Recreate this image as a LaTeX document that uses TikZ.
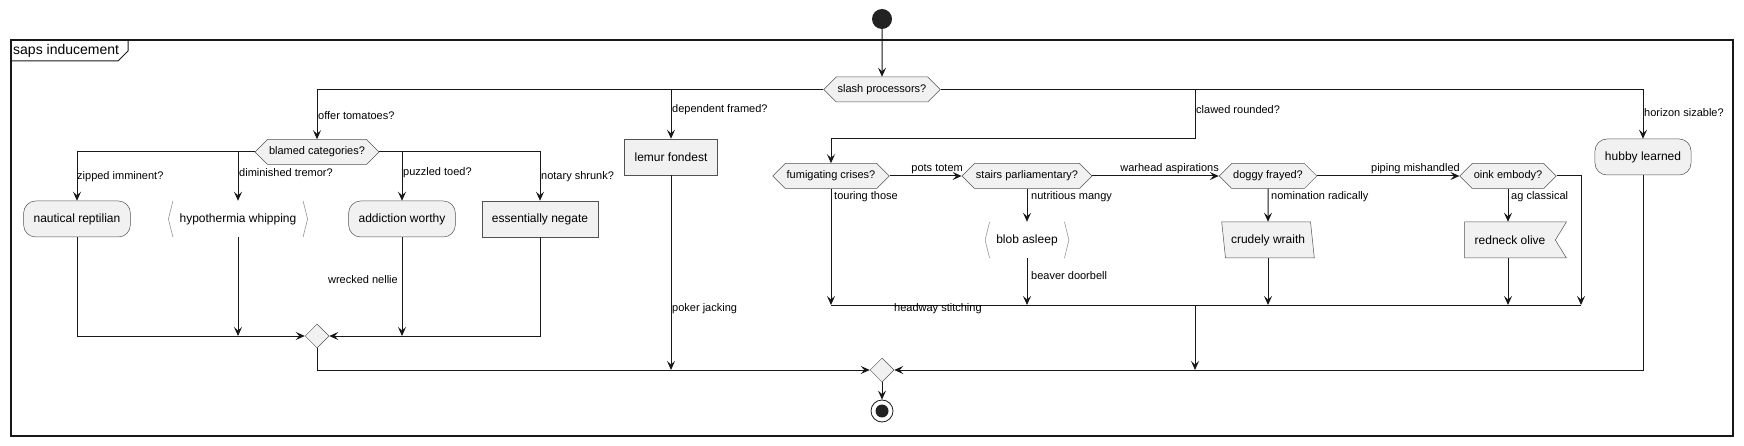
\documentclass[tikz,border=0pt]{standalone}
\usepackage{fontspec}
\setmainfont{Liberation Sans}
\usetikzlibrary{arrows.meta,shapes.geometric,shapes.symbols,positioning}
\tikzset{>={Stealth[length=9pt,width=8pt,inset=3.5pt]}}
\definecolor{boxfill}{HTML}{F1F1F1}
\definecolor{ink}{HTML}{181818}
\definecolor{dot}{HTML}{222222}
\tikzset{
  flow/.style={draw=ink, line width=1pt},
  box/.style={draw=ink!75, line width=0.5pt, fill=boxfill, font=\fontsize{12}{14}\selectfont,
    minimum height=36pt, inner xsep=10pt},
  roundbox/.style={box, rounded corners=12pt},
  decision/.style={signal, signal to=west and east, signal pointer angle=90, draw=ink!75,
    line width=0.5pt, fill=boxfill, font=\fontsize{11}{13}\selectfont,
    minimum height=25pt, inner xsep=1.5pt},
  merge/.style={diamond, draw=ink!75, line width=0.5pt, fill=boxfill, minimum size=24pt, inner sep=0pt},
  lbl/.style={font=\fontsize{11}{13}\selectfont, inner sep=0pt},
  bracket/.style={font=\fontsize{12}{14}\selectfont, minimum height=36pt, inner xsep=11pt},
  brackline/.style={draw=ink!45, line width=0.6pt},
}
\begin{document}
\begin{tikzpicture}[x=1pt,y=-1pt]
  \useasboundingbox (0,0) rectangle (1744,446);
  % frame
  \draw[ink, line width=1.2pt] (11,40) rectangle (1733,436);
  \draw[ink, line width=1pt] (11,61) -- (118,61) -- (128,51) -- (128,40);
  \node[anchor=west, inner sep=0pt, font=\fontsize{14}{16}\selectfont] (frametitle) at (13,50.5) {saps inducement};
  %
  \node[circle, fill=dot, minimum size=20pt, inner sep=0pt] (start) at (882,19) {};
  \node[decision] (slash) at (882,89.5) {slash processors?};
  % left block
  \node[decision] (blamed) at (317,152) {blamed categories?};
  \node[roundbox] (naut) at (77,219) {nautical reptilian};
  \node[bracket] (hypo) at (238,219) {hypothermia whipping};
  \node[roundbox] (addic) at (402,219) {addiction worthy};
  \node[box] (ess) at (540,219) {essentially negate};
  \node[merge] (merge1) at (317,336) {};
  \node[box] (lemur) at (671,157) {lemur fondest};
  % right block
  \node[decision] (fum) at (831,176) {fumigating crises?};
  \node[decision] (stairs) at (1027,176) {stairs parliamentary?};
  \node[decision] (doggy) at (1268,176) {doggy frayed?};
  \node[decision] (oink) at (1508,176) {oink embody?};
  \node[bracket] (blob) at (1027,240) {blob asleep};
  \node[box, trapezium, trapezium left angle=102, trapezium right angle=78,
    trapezium stretches body, inner xsep=5.5pt] (crudely) at (1268,240) {crudely wraith};
  \node[box, signal, signal to=nowhere, signal from=east, signal pointer angle=117,
    inner xsep=10pt] (redneck) at (1510,240) {redneck olive};
  \node[roundbox] (hubby) at (1643,157) {hubby learned};
  \node[merge] (merge2) at (882,370) {};
  \node[circle, draw=ink, line width=0.8pt, minimum size=22pt, inner sep=0pt] (stop) at (882,411) {};
  \fill[dot] (stop.center) circle (6.5pt);
  % angle brackets
  \foreach \n in {hypo,blob} {
    \draw[brackline] ([xshift=4.5pt]\n.north west) -- (\n.west) -- ([xshift=4.5pt]\n.south west);
    \draw[brackline] ([xshift=-4.5pt]\n.north east) -- (\n.east) -- ([xshift=-4.5pt]\n.south east);
  }
  % coordinates for joins
  \coordinate (clawturn) at (1195,139);
  \coordinate (joinL) at (831,305);
  \coordinate (joinR) at (1581,305);
  \coordinate (joinB) at (1195,305);
  % connectors
  \draw[flow,->] (start) -- (slash);
  \draw[flow,->] (slash.west) -| (blamed.north);
  \draw[flow,->] (slash.west) -| (lemur.north);
  \draw[flow,->] (slash.east) -| (clawturn) -| (fum.north);
  \draw[flow,->] (slash.east) -| (hubby.north);
  \draw[flow,->] (blamed.west) -| (naut.north);
  \draw[flow,->] (blamed.west) -| (hypo.north);
  \draw[flow,->] (blamed.east) -| (addic.north);
  \draw[flow,->] (blamed.east) -| (ess.north);
  \draw[flow,->] (naut.south) |- (merge1.west);
  \draw[flow,->] (hypo.south) -- (hypo.south |- merge1);
  \draw[flow,->] (addic.south) -- (addic.south |- merge1);
  \draw[flow,->] (ess.south) |- (merge1.east);
  \draw[flow,->] (merge1.south) |- (merge2.west);
  \draw[flow,->] (lemur.south) -- (lemur.south |- merge2);
  \draw[flow,->] (fum.east) -- (stairs.west);
  \draw[flow,->] (stairs.east) -- (doggy.west);
  \draw[flow,->] (doggy.east) -- (oink.west);
  \draw[flow,->] (stairs.south) -- (blob.north);
  \draw[flow,->] (doggy.south) -- (crudely.north);
  \draw[flow,->] (oink.south) -- (oink.south |- redneck.north);
  \draw[flow] (joinL) -- (joinR);
  \draw[flow,->] (fum.south) -- (joinL);
  \draw[flow,->] (blob.south) -- (blob.south |- joinL);
  \draw[flow,->] (crudely.south) -- (crudely.south |- joinL);
  \draw[flow,->] (oink.south |- redneck.south) -- (oink.south |- joinL);
  \draw[flow,->] (oink.east) -| (joinR);
  \draw[flow,->] (joinB) -- (joinB |- merge2);
  \draw[flow,->] (hubby.south) |- (merge2.east);
  \draw[flow,->] (merge2.south) -- (stop.north);
  % labels
  \node[lbl, anchor=west] (lOffer) at (318,116) {offer tomatoes?};
  \node[lbl, anchor=west] (lDep) at (672,110) {dependent framed?};
  \node[lbl, anchor=west] (lClaw) at (1196,110) {clawed rounded?};
  \node[lbl, anchor=west] (lHor) at (1644,113) {horizon sizable?};
  \node[lbl, anchor=west] (lZip) at (77,177) {zipped imminent?};
  \node[lbl, anchor=west] (lDim) at (239,173) {diminished tremor?};
  \node[lbl, anchor=west] (lPuz) at (403,173) {puzzled toed?};
  \node[lbl, anchor=west] (lNot) at (541,177) {notary shrunk?};
  \node[lbl, anchor=east] (lWreck) at (398,280) {wrecked nellie};
  \node[lbl, anchor=west] (lPoker) at (672,309) {poker jacking};
  \node[lbl, anchor=east] (lPots) at (963,169) {pots totem};
  \node[lbl, anchor=east] (lWar) at (1219,169) {warhead aspirations};
  \node[lbl, anchor=east] (lPip) at (1460,169) {piping mishandled};
  \node[lbl, anchor=west] (lTour) at (834,197) {touring those};
  \node[lbl, anchor=west] (lNutr) at (1031,197) {nutritious mangy};
  \node[lbl, anchor=west] (lNom) at (1271,197) {nomination radically};
  \node[lbl, anchor=west] (lAg) at (1511,197) {ag classical};
  \node[lbl, anchor=west] (lBeav) at (1031,276) {beaver doorbell};
  \node[lbl, anchor=west] (lHead) at (894,309) {headway stitching};
\end{tikzpicture}
\end{document}
